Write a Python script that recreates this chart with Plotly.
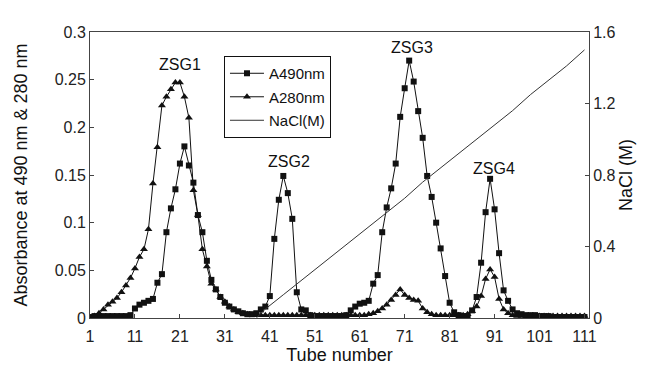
import plotly.graph_objects as go

tubes = list(range(1, 112))

a490 = [
    0.001, 0.002, 0.002, 0.002, 0.002, 0.002, 0.002, 0.002, 0.002, 0.003,   # 1-10
    0.010, 0.014, 0.016, 0.018, 0.020, 0.037, 0.046, 0.090, 0.115, 0.135,   # 11-20
    0.162, 0.180, 0.160, 0.142, 0.108, 0.090, 0.060, 0.040, 0.030, 0.022,   # 21-30
    0.016, 0.012, 0.009, 0.007, 0.005, 0.004, 0.004, 0.005, 0.009, 0.012,   # 31-40
    0.023, 0.083, 0.124, 0.149, 0.131, 0.104, 0.027, 0.009, 0.008, 0.003,   # 41-50
    0.002, 0.002, 0.002, 0.002, 0.002, 0.002, 0.002, 0.003, 0.008, 0.012,   # 51-60
    0.015, 0.016, 0.018, 0.036, 0.045, 0.090, 0.116, 0.136, 0.162, 0.211,   # 61-70
    0.241, 0.270, 0.248, 0.217, 0.189, 0.149, 0.127, 0.100, 0.073, 0.044,   # 71-80
    0.016, 0.006, 0.003, 0.002, 0.002, 0.008, 0.022, 0.058, 0.111, 0.146,   # 81-90
    0.114, 0.068, 0.029, 0.018, 0.009, 0.005, 0.004, 0.003, 0.003, 0.003,   # 91-100
    0.002, 0.002, 0.002, 0.001, 0.001, 0.001, 0.001, 0.001, 0.001, 0.001,   # 101-110
    0.001,                                                                  # 111
]

a280 = [
    0.000, 0.002, 0.005, 0.009, 0.014, 0.017, 0.021, 0.027, 0.034, 0.042,   # 1-10
    0.052, 0.064, 0.072, 0.093, 0.141, 0.179, 0.223, 0.232, 0.240, 0.247,   # 11-20
    0.247, 0.232, 0.210, 0.134, 0.108, 0.072, 0.054, 0.036, 0.030, 0.022,   # 21-30
    0.017, 0.012, 0.009, 0.006, 0.005, 0.004, 0.003, 0.003, 0.003, 0.003,   # 31-40
    0.003, 0.003, 0.003, 0.003, 0.003, 0.003, 0.003, 0.003, 0.003, 0.003,   # 41-50
    0.003, 0.003, 0.003, 0.003, 0.003, 0.003, 0.003, 0.003, 0.003, 0.003,   # 51-60
    0.003, 0.003, 0.004, 0.005, 0.007, 0.010, 0.014, 0.019, 0.024, 0.030,   # 61-70
    0.024, 0.021, 0.019, 0.018, 0.010, 0.006, 0.004, 0.003, 0.003, 0.003,   # 71-80
    0.003, 0.003, 0.003, 0.003, 0.004, 0.007, 0.012, 0.023, 0.041, 0.051,   # 81-90
    0.043, 0.020, 0.009, 0.005, 0.003, 0.002, 0.002, 0.002, 0.002, 0.002,   # 91-100
    0.002, 0.002, 0.002, 0.002, 0.002, 0.002, 0.002, 0.002, 0.002, 0.002,   # 101-110
    0.002,                                                                  # 111
]

nacl_tubes = [38, 40, 44, 47, 51, 55, 59, 63, 67, 71, 75, 79, 83, 87, 91, 95, 99, 103, 107, 111]
nacl_values = [0.0, 0.05, 0.13, 0.19, 0.27, 0.35, 0.43, 0.51, 0.59, 0.67,
               0.76, 0.84, 0.92, 1.00, 1.08, 1.16, 1.25, 1.33, 1.41, 1.50]

x_ticks = [1, 11, 21, 31, 41, 51, 61, 71, 81, 91, 101, 111]
y_ticks = [0, 0.05, 0.1, 0.15, 0.2, 0.25, 0.3]
y_ticktext = ["0", "0.05", "0.1", "0.15", "0.2", "0.25", "0.3"]
y2_ticks = [0, 0.4, 0.8, 1.2, 1.6]
y2_ticktext = ["0", "0.4", "0.8", "1.2", "1.6"]

peak_labels = ["ZSG1", "ZSG2", "ZSG3", "ZSG4"]
peak_x = [21.0, 45.3, 72.6, 90.9]
peak_y = [0.2655, 0.1637, 0.2833, 0.1563]

FONT = "Liberation Sans, Arial, sans-serif"
INK = "#111111"
AXIS = "#444444"

fig = go.Figure()
fig.add_trace(go.Scatter(
    x=tubes, y=a490, name="A490nm", mode="lines+markers", legendgroup="g1",
    line=dict(color=INK, width=1),
    marker=dict(symbol="square", size=6, color=INK),
))
fig.add_trace(go.Scatter(
    x=tubes, y=a280, name="A280nm", mode="lines+markers", legendgroup="g2",
    line=dict(color=INK, width=1),
    marker=dict(symbol="triangle-up", size=7, color=INK),
))
fig.add_trace(go.Scatter(
    x=nacl_tubes, y=nacl_values, name="NaCl(M)", mode="lines", legendgroup="g3",
    line=dict(color="#333333", width=1), yaxis="y2",
))

for lbl, px, py in zip(peak_labels, peak_x, peak_y):
    fig.add_annotation(x=px, y=py, text=lbl, showarrow=False,
                       font=dict(size=16, color=INK, family=FONT))

fig.update_layout(
    width=652, height=372,
    margin=dict(l=90, r=63, t=32, b=54),
    paper_bgcolor="white", plot_bgcolor="white",
    font=dict(family=FONT, size=16, color="#222222"),
    showlegend=True,
    legend=dict(
        x=0.2685, y=0.916, xanchor="left", yanchor="top",
        bordercolor=INK, borderwidth=1, bgcolor="white",
        font=dict(size=15, family=FONT, color=INK),
        itemwidth=34, tracegroupgap=1,
    ),
    xaxis=dict(
        range=[1, 112], tickvals=x_ticks, ticktext=[str(v) for v in x_ticks],
        showline=True, linecolor=AXIS, linewidth=1, mirror=True,
        ticks="inside", ticklen=4, tickcolor=AXIS,
        showgrid=False, zeroline=False, ticklabelstandoff=4, automargin=False,
        title=dict(text="Tube number", font=dict(size=18, family=FONT, color=INK), standoff=2),
        tickfont=dict(size=16, color="#222222"),
    ),
    yaxis=dict(
        range=[0, 0.3], tickvals=y_ticks, ticktext=y_ticktext,
        showline=True, linecolor=AXIS, linewidth=1,
        ticks="inside", ticklen=4, tickcolor=AXIS,
        showgrid=False, zeroline=False, automargin=False,
        title=dict(text="Absorbance at 490 nm &amp; 280 nm", font=dict(size=18, family=FONT, color=INK), standoff=22),
        tickfont=dict(size=16, color="#222222"),
    ),
    yaxis2=dict(
        range=[0, 1.6], tickvals=y2_ticks, ticktext=y2_ticktext,
        overlaying="y", side="right",
        showline=True, linecolor=AXIS, linewidth=1,
        ticks="inside", ticklen=4, tickcolor=AXIS,
        showgrid=False, zeroline=False, automargin=False,
        title=dict(text="NaCl (M)", font=dict(size=18, family=FONT, color=INK), standoff=3),
        tickfont=dict(size=16, color="#222222"),
    ),
)

fig.write_html("out.html", config={"displayModeBar": False},
               post_script="document.body.style.margin='0';")
